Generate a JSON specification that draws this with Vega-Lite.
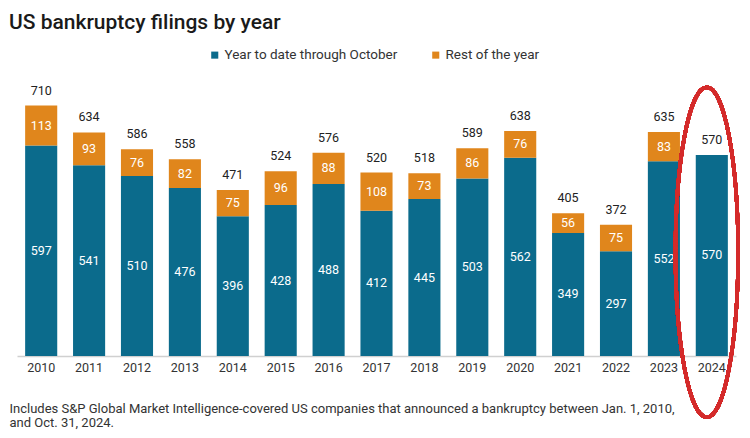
{
  "$schema": "https://vega.github.io/schema/vega-lite/v6.json",
  "autosize": {"type": "none"},
  "width": 719,
  "height": 261,
  "padding": {"left": 17, "top": 95, "right": 14, "bottom": 82},
  "background": "white",
  "title": {
    "text": "US bankruptcy filings by year",
    "anchor": "start",
    "frame": "group",
    "dx": -8,
    "offset": 15,
    "font": "Roboto",
    "fontSize": 21,
    "fontWeight": 500,
    "color": "#1a1a1a"
  },
  "config": {
    "view": {"stroke": null},
    "font": "Roboto"
  },
  "data": {
    "values": [
      {"year": "2010", "segment": "Year to date through October", "order": 1, "value": 597, "total": 710},
      {"year": "2010", "segment": "Rest of the year", "order": 2, "value": 113, "total": 710},
      {"year": "2011", "segment": "Year to date through October", "order": 1, "value": 541, "total": 634},
      {"year": "2011", "segment": "Rest of the year", "order": 2, "value": 93, "total": 634},
      {"year": "2012", "segment": "Year to date through October", "order": 1, "value": 510, "total": 586},
      {"year": "2012", "segment": "Rest of the year", "order": 2, "value": 76, "total": 586},
      {"year": "2013", "segment": "Year to date through October", "order": 1, "value": 476, "total": 558},
      {"year": "2013", "segment": "Rest of the year", "order": 2, "value": 82, "total": 558},
      {"year": "2014", "segment": "Year to date through October", "order": 1, "value": 396, "total": 471},
      {"year": "2014", "segment": "Rest of the year", "order": 2, "value": 75, "total": 471},
      {"year": "2015", "segment": "Year to date through October", "order": 1, "value": 428, "total": 524},
      {"year": "2015", "segment": "Rest of the year", "order": 2, "value": 96, "total": 524},
      {"year": "2016", "segment": "Year to date through October", "order": 1, "value": 488, "total": 576},
      {"year": "2016", "segment": "Rest of the year", "order": 2, "value": 88, "total": 576},
      {"year": "2017", "segment": "Year to date through October", "order": 1, "value": 412, "total": 520},
      {"year": "2017", "segment": "Rest of the year", "order": 2, "value": 108, "total": 520},
      {"year": "2018", "segment": "Year to date through October", "order": 1, "value": 445, "total": 518},
      {"year": "2018", "segment": "Rest of the year", "order": 2, "value": 73, "total": 518},
      {"year": "2019", "segment": "Year to date through October", "order": 1, "value": 503, "total": 589},
      {"year": "2019", "segment": "Rest of the year", "order": 2, "value": 86, "total": 589},
      {"year": "2020", "segment": "Year to date through October", "order": 1, "value": 562, "total": 638},
      {"year": "2020", "segment": "Rest of the year", "order": 2, "value": 76, "total": 638},
      {"year": "2021", "segment": "Year to date through October", "order": 1, "value": 349, "total": 405},
      {"year": "2021", "segment": "Rest of the year", "order": 2, "value": 56, "total": 405},
      {"year": "2022", "segment": "Year to date through October", "order": 1, "value": 297, "total": 372},
      {"year": "2022", "segment": "Rest of the year", "order": 2, "value": 75, "total": 372},
      {"year": "2023", "segment": "Year to date through October", "order": 1, "value": 552, "total": 635},
      {"year": "2023", "segment": "Rest of the year", "order": 2, "value": 83, "total": 635},
      {"year": "2024", "segment": "Year to date through October", "order": 1, "value": 570, "total": 570},
      {"year": "2024", "segment": "Rest of the year", "order": 2, "value": 0, "total": 570}
    ]
  },
  "transform": [
    {"stack": "value", "groupby": ["year"], "sort": [{"field": "order"}], "as": ["v0", "v1"]},
    {"calculate": "(datum.v0 + datum.v1) / 2", "as": "mid"}
  ],
  "encoding": {
    "x": {
      "field": "year",
      "type": "nominal",
      "scale": {"paddingInner": 0.33, "paddingOuter": 0.17},
      "axis": {
        "labelAngle": 0,
        "labelFontSize": 12.5,
        "labelColor": "#333333",
        "labelPadding": 5,
        "ticks": false,
        "domainColor": "#d0d0d0",
        "domainWidth": 1.5,
        "title": ["Includes S&P Global Market Intelligence-covered US companies that announced a bankruptcy between Jan. 1, 2010,", "and Oct. 31, 2024."],
        "titleAnchor": "start",
        "titleAlign": "left",
        "titleBaseline": "top",
        "titleX": -8,
        "titleY": 46,
        "titleFontSize": 13,
        "titleFontWeight": "normal",
        "titleColor": "#333333",
        "titleLineHeight": 14.5
      }
    }
  },
  "layer": [
    {
      "mark": {"type": "bar"},
      "encoding": {
        "y": {"field": "v1", "type": "quantitative", "scale": {"domain": [0, 740], "nice": false}, "axis": null},
        "y2": {"field": "v0"},
        "color": {
          "field": "segment",
          "type": "nominal",
          "sort": ["Year to date through October", "Rest of the year"],
          "scale": {"domain": ["Year to date through October", "Rest of the year"], "range": ["#0b6b8c", "#e0861c"]},
          "legend": {
            "title": null,
            "orient": "none",
            "direction": "horizontal",
            "legendX": 191,
            "legendY": -47,
            "symbolType": "square",
            "symbolSize": 50,
            "labelFontSize": 13.5,
            "labelLimit": 400,
            "labelColor": "#333333",
            "columnPadding": 31,
            "labelOffset": 3
          }
        }
      }
    },
    {
      "transform": [{"filter": "datum.value > 0"}],
      "mark": {"type": "text", "color": "white", "fontSize": 12.5, "baseline": "middle"},
      "encoding": {
        "y": {"field": "mid", "type": "quantitative"},
        "text": {"field": "value", "type": "quantitative"}
      }
    },
    {
      "transform": [{"filter": "datum.order == 1"}],
      "mark": {"type": "text", "color": "#222222", "fontSize": 12.5, "baseline": "middle", "dy": -15},
      "encoding": {
        "y": {"field": "total", "type": "quantitative"},
        "text": {"field": "total", "type": "quantitative"}
      }
    },
    {
      "mark": {
        "type": "point",
        "shape": "M -0.19 0 A 0.19 1 0 1 0 0.19 0 A 0.19 1 0 1 0 -0.19 0",
        "filled": false,
        "stroke": "#d42a2a",
        "strokeWidth": 3.5,
        "opacity": 1,
        "size": 108900,
        "xOffset": -5
      },
      "encoding": {
        "x": {"datum": "2024"},
        "y": {"datum": 294}
      }
    }
  ]
}
